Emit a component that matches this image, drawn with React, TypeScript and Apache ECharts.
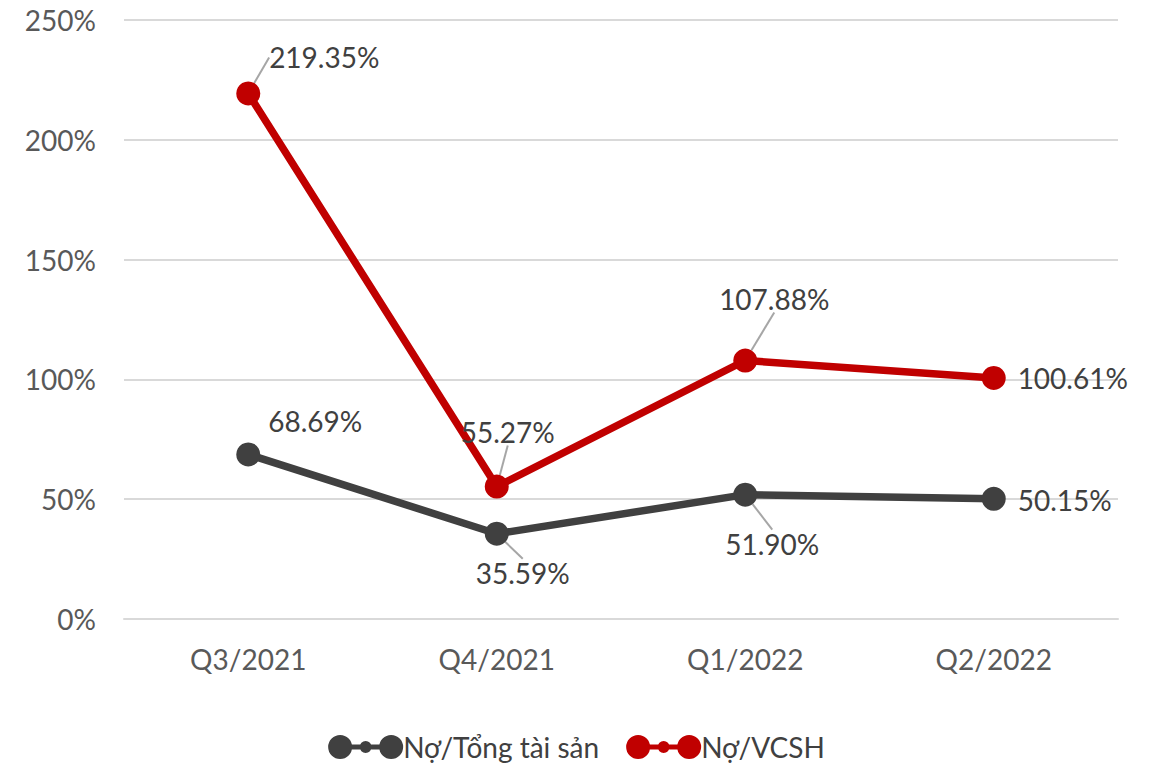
import React, { useEffect, useRef } from "react";
import * as echarts from "echarts";

const categories = ["Q3/2021", "Q4/2021", "Q1/2022", "Q2/2022"];
const debtToAssets = [68.69, 35.59, 51.9, 50.15];
const debtToEquity = [219.35, 55.27, 107.88, 100.61];
const seriesNames = ["Nợ/Tổng tài sản", "Nợ/VCSH"];

// label offsets relative to point centre (style only)
const offsetsAssets = [[67, -33], [26, 39], [27, 49], [71, 1]];
const offsetsEquity = [[76, -36], [11, -55], [29, -62], [79, 0]];
const leaderAssets = [false, true, true, false];
const leaderEquity = [true, true, true, false];

const FONT = "Lato, 'Open Sans', sans-serif";

const legendIcon =
  "path://M0,12 A12,12 0 1 1 24,12 A12,12 0 1 1 0,12 Z " +
  "M51,12 A12,12 0 1 1 75,12 A12,12 0 1 1 51,12 Z " +
  "M31.5,12 A6,6 0 1 1 43.5,12 A6,6 0 1 1 31.5,12 Z " +
  "M20,9.5 L32,9.5 L32,14.5 L20,14.5 Z " +
  "M43,9.5 L55,9.5 L55,14.5 L43,14.5 Z";

export default function App() {
  const ref = useRef<HTMLDivElement>(null);
  useEffect(() => {
    if (!ref.current) return;
    document.body.style.margin = "0";
    const chart = echarts.init(ref.current, undefined, { renderer: "svg" });
    const mkSeries = (name: string, values: number[], color: string, offs: number[][], leaders: boolean[]) => ({
      name,
      type: "line",
      data: values.map((v, i) => ({
        value: v,
        labelLine: { show: leaders[i] },
      })),
      symbol: "circle",
      symbolSize: 24,
      itemStyle: { color },
      lineStyle: { color, width: 7.5 },
      label: {
        show: true,
        position: "inside",
        formatter: (p: any) => p.value.toFixed(2) + "%",
        color: "#404040",
        fontSize: 28,
        fontFamily: FONT,
      },
      labelLine: {
        show: true,
        lineStyle: { color: "#a6a6a6", width: 2 },
      },
      labelLayout: (p: any) => {
        const o = offs[p.dataIndex];
        return { dx: o[0], dy: o[1] };
      },
    });
    chart.setOption({
      animation: false,
      grid: { left: 124, right: 35, top: 20, bottom: 153 },
      xAxis: {
        type: "category",
        data: categories,
        boundaryGap: true,
        axisLine: { lineStyle: { color: "#d9d9d9", width: 2 } },
        axisTick: { show: false },
        axisLabel: { color: "#595959", fontSize: 28, fontFamily: FONT, margin: 26 },
      },
      yAxis: {
        type: "value",
        min: 0,
        max: 250,
        interval: 50,
        axisLabel: {
          color: "#595959",
          fontSize: 28,
          fontFamily: FONT,
          margin: 28,
          formatter: (v: number) => v + "%",
        },
        splitLine: { lineStyle: { color: "#d9d9d9", width: 2 } },
        axisLine: { show: false },
        axisTick: { show: false },
      },
      legend: {
        top: 728,
        left: "center",
        itemWidth: 75,
        itemHeight: 24,
        itemGap: 27,
        icon: legendIcon,
        textStyle: { color: "#404040", fontSize: 28, fontFamily: FONT, padding: [0, 0, 0, -5] },
        data: seriesNames,
      },
      series: [
        mkSeries(seriesNames[0], debtToAssets, "#404040", offsetsAssets, leaderAssets),
        mkSeries(seriesNames[1], debtToEquity, "#C00000", offsetsEquity, leaderEquity),
      ],
    });
    return () => chart.dispose();
  }, []);
  return <div ref={ref} style={{ width: 1153, height: 772 }} />;
}
